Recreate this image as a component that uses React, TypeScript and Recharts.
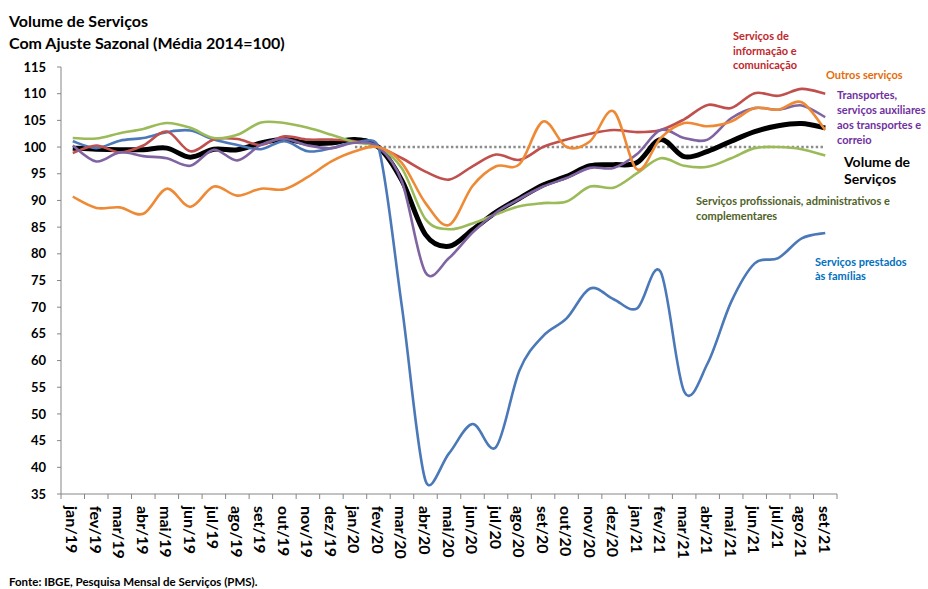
import { Line, LineChart, XAxis, YAxis } from 'recharts';

const months = [
  'jan/19', 'fev/19', 'mar/19', 'abr/19', 'mai/19', 'jun/19', 'jul/19', 'ago/19', 'set/19', 'out/19', 'nov/19', 'dez/19',
  'jan/20', 'fev/20', 'mar/20', 'abr/20', 'mai/20', 'jun/20', 'jul/20', 'ago/20', 'set/20', 'out/20', 'nov/20', 'dez/20',
  'jan/21', 'fev/21', 'mar/21', 'abr/21', 'mai/21', 'jun/21', 'jul/21', 'ago/21', 'set/21',
];

const volume = [
  99.8, 99.6, 99.5, 99.5, 99.8, 98.1, 99.6, 99.5, 100.75, 101.4, 100.75, 100.75,
  101.4, 100, 93.7, 83.6, 81.4, 84.5, 87.8, 90.4, 92.9, 94.5, 96.5, 96.7,
  97.1, 101.4, 98.2, 99.2, 101.1, 102.9, 104, 104.4, 103.6,
];
const informacao = [
  98.9, 100.3, 99, 100.3, 102.9, 99.2, 101.4, 101.5, 100.4, 102, 101.4, 101.4,
  101.1, 100, 97.9, 95.4, 93.9, 96.4, 98.6, 97.6, 100, 101.4, 102.5, 103.2,
  102.8, 103.2, 105.2, 107.9, 107.3, 110.1, 109.6, 110.9, 110,
];
const outros = [
  90.7, 88.6, 88.7, 87.5, 92.2, 88.8, 92.6, 90.9, 92.2, 92.1, 94.4, 97.3,
  99.2, 100, 97, 89.5, 85.4, 92.7, 96.4, 96.8, 104.8, 100, 101.1, 106.7,
  95.8, 101.7, 104.5, 103.9, 104.8, 107.3, 107, 108.4, 103.2,
];
const transportes = [
  100.3, 97.3, 99, 98.3, 97.9, 96.5, 99.5, 97.5, 100.4, 101.5, 100.3, 99.8,
  100.8, 100, 93.5, 76.5, 79.2, 84, 87.7, 90.3, 92.6, 94.2, 96.1, 96.1,
  98.7, 103.2, 101.7, 101.4, 105.4, 107.3, 107, 107.8, 105.6,
];
const profissionais = [
  101.7, 101.6, 102.6, 103.4, 104.5, 103.6, 101.7, 102.3, 104.6, 104.5, 103.6, 102.3,
  100.9, 100, 96, 86.5, 84.6, 85.7, 87.4, 88.9, 89.5, 89.8, 92.6, 92.4,
  95.1, 97.9, 96.5, 96.3, 97.9, 99.8, 100, 99.6, 98.4,
];
const familias = [
  101.1, 99.8, 101.2, 101.7, 102.8, 103.1, 101.4, 100.4, 99.6, 101.1, 99.2, 99.8,
  100.9, 100, 70, 37.5, 42.6, 48.1, 43.8, 58.2, 64.6, 67.9, 73.5, 71.5,
  69.8, 76.6, 54.2, 59.5, 71, 78.2, 79.2, 82.9, 83.9,
];
// base 100 reference, from jan/20 on
const baseStart = 12;
const yTicks = [35, 40, 45, 50, 55, 60, 65, 70, 75, 80, 85, 90, 95, 100, 105, 110, 115];

const data = months.map((month, i) => ({
  month,
  volume: volume[i],
  informacao: informacao[i],
  outros: outros[i],
  transportes: transportes[i],
  profissionais: profissionais[i],
  familias: familias[i],
  base: i >= baseStart ? 100 : null,
}));

const W = 928;
const H = 589;
const PLOT_LEFT = 61;
const PLOT_RIGHT = 837;
const AXIS_Y = 494;
const HALF_BAND = (PLOT_RIGHT - PLOT_LEFT) / months.length / 2;
const FONT = 'Lato, "Open Sans", sans-serif';
const AXIS_COLOR = '#868686';

const dist = (a: number[], b: number[]) => Math.hypot(b[0] - a[0], b[1] - a[1]);

// Excel-like smoothed line: Bezier with tangents (p2-p0)/6, capped so a
// control arm never gets longer than half of its own segment
function smooth(context: any) {
  let pts: number[][] = [];
  return {
    areaStart() {},
    areaEnd() {},
    lineStart() {
      pts = [];
    },
    point(x: number, y: number) {
      pts.push([+x, +y]);
    },
    lineEnd() {
      if (!pts.length) return;
      context.moveTo(pts[0][0], pts[0][1]);
      for (let i = 0; i < pts.length - 1; i++) {
        const p0 = pts[i - 1] || pts[i];
        const p1 = pts[i];
        const p2 = pts[i + 1];
        const p3 = pts[i + 2] || p2;
        const d12 = dist(p1, p2);
        const d02 = dist(p0, p2);
        const d13 = dist(p1, p3);
        const f1 = d02 > 0 ? Math.min(1 / 6, d12 / (2 * d02)) : 0;
        const f2 = d13 > 0 ? Math.min(1 / 6, d12 / (2 * d13)) : 0;
        context.bezierCurveTo(
          p1[0] + (p2[0] - p0[0]) * f1,
          p1[1] + (p2[1] - p0[1]) * f1,
          p2[0] - (p3[0] - p1[0]) * f2,
          p2[1] - (p3[1] - p1[1]) * f2,
          p2[0],
          p2[1],
        );
      }
    },
  };
}

const XTick = (props: any) => {
  const { x, payload, index } = props;
  const ly = 506;
  return (
    <g>
      <line x1={x - HALF_BAND} x2={x - HALF_BAND} y1={AXIS_Y} y2={AXIS_Y + 5} stroke={AXIS_COLOR} />
      {index === months.length - 1 && (
        <line x1={x + HALF_BAND} x2={x + HALF_BAND} y1={AXIS_Y} y2={AXIS_Y + 5} stroke={AXIS_COLOR} />
      )}
      <text
        x={x}
        y={ly}
        transform={`rotate(90 ${x} ${ly})`}
        textAnchor="start"
        dominantBaseline="central"
        fontFamily={FONT}
        fontWeight={700}
        fontSize={16}
        fill="#000"
      >
        {payload.value}
      </text>
    </g>
  );
};

const series = [
  { key: 'volume', color: '#000000', width: 5 },
  { key: 'familias', color: '#4a78b8', width: 2.6 },
  { key: 'informacao', color: '#c0504d', width: 2.6 },
  { key: 'profissionais', color: '#9bbb59', width: 2.6 },
  { key: 'transportes', color: '#8064a2', width: 2.6 },
  { key: 'outros', color: '#ee8a35', width: 2.6 },
];

const Note = ({ x, y, lines, color, size = 11, gap = 15 }: any) => (
  <text x={x} fontFamily={FONT} fontWeight={700} fontSize={size} fill={color} dominantBaseline="central">
    {lines.map((t: string, i: number) => (
      <tspan key={i} x={x} y={y + i * gap}>
        {t}
      </tspan>
    ))}
  </text>
);

export default function App() {
  return (
    <div style={{ position: 'absolute', left: 0, top: 0, width: W, height: H, background: '#fff' }}>
      <LineChart width={W} height={H} data={data} margin={{ top: 67, right: W - PLOT_RIGHT, bottom: 0, left: 11 }}>
        <XAxis
          dataKey="month"
          interval={0}
          height={H - AXIS_Y}
          padding={{ left: HALF_BAND, right: HALF_BAND }}
          axisLine={{ stroke: AXIS_COLOR }}
          tickLine={false}
          tick={<XTick />}
        />
        <YAxis
          domain={[35, 115]}
          ticks={yTicks}
          interval={0}
          width={PLOT_LEFT - 11}
          tickSize={4}
          tickMargin={11}
          axisLine={{ stroke: AXIS_COLOR }}
          tickLine={{ stroke: AXIS_COLOR }}
          tick={{ fontFamily: FONT, fontWeight: 700, fontSize: 13, fill: '#000' }}
        />
        <Line
          dataKey="base"
          stroke="#8c8c8c"
          strokeWidth={2.4}
          strokeDasharray="2.4 2.4"
          dot={false}
          activeDot={false}
          type="linear"
          isAnimationActive={false}
        />
        {series.map((s) => (
          <Line
            key={s.key}
            dataKey={s.key}
            stroke={s.color}
            strokeWidth={s.width}
            dot={false}
            activeDot={false}
            type={smooth as any}
            isAnimationActive={false}
          />
        ))}
      </LineChart>
      <svg width={W} height={H} style={{ position: 'absolute', left: 0, top: 0, pointerEvents: 'none' }}>
        <Note x={9} y={20} lines={['Volume de Serviços', 'Com Ajuste Sazonal (Média 2014=100)']} color="#000" size={16} gap={22} />
        <Note x={733} y={35} lines={['Serviços de', 'informação  e', 'comunicação']} color="#c0282d" gap={14.5} />
        <Note x={826} y={74} lines={['Outros serviços']} color="#e36c09" />
        <Note x={837} y={94} lines={['Transportes,', 'serviços auxiliares', 'aos transportes e', 'correio']} color="#7030a0" />
        <Note x={844} y={160.5} lines={['Volume de', 'Serviços']} color="#000" size={14} gap={17.5} />
        <Note x={696} y={200} lines={['Serviços profissionais,  administrativos e', 'complementares']} color="#4f6228" />
        <Note x={815} y={260.5} lines={['Serviços prestados', 'às famílias']} color="#0070c0" gap={14.5} />
        <Note x={9} y={581} lines={['Fonte: IBGE, Pesquisa Mensal de Serviços (PMS).']} color="#000" size={11.5} />
      </svg>
    </div>
  );
}
